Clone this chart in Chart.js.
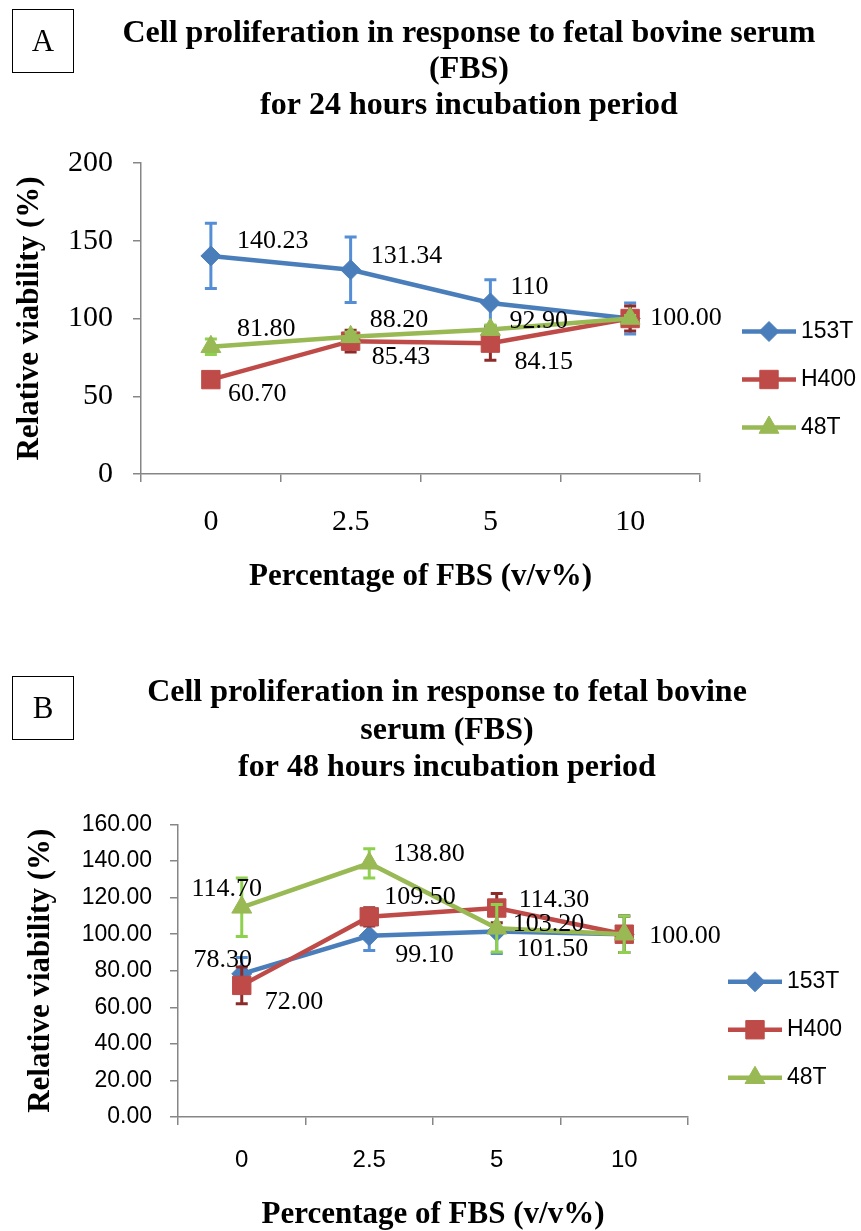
<!DOCTYPE html>
<html>
<head>
<meta charset="utf-8">
<script src="https://cdn.jsdelivr.net/npm/chart.js@4.4.1/dist/chart.umd.min.js"></script>
<style>
html, body { margin: 0; padding: 0; background: #fff; }
#wrap { position: relative; width: 861px; height: 1231px; overflow: hidden; background: #fff; }
canvas { position: absolute; left: 0; }
#chartA { top: 0; }
#chartB { top: 640px; }
.tag { position: absolute; left: 12px; width: 62px; height: 64px; border: 1.5px solid #000; box-sizing: border-box;
  font-family: "Liberation Serif", serif; font-size: 31px; line-height: 61px; text-align: center; color: #000; }
</style>
</head>
<body>
<div id="wrap">
  <canvas id="chartA" width="938" height="620"></canvas>
  <canvas id="chartB" width="894" height="591"></canvas>
  <div class="tag" style="top:9px">A</div>
  <div class="tag" style="top:676px">B</div>
</div>
<script>
var CATEGORIES = ['0', '2.5', '5', '10'];

// 24 hours
var A_153T = [140.23, 131.34, 110, 100];
var A_H400 = [60.70, 85.43, 84.15, 100];
var A_48T = [81.80, 88.20, 92.90, 100];
var A_153T_ERR = [21, 21, 15, 10];
var A_H400_ERR = [3, 7, 11, 8];
var A_48T_ERR = [5, 3, 3, 2];
var A_153T_TXT = ['140.23', '131.34', '110', '100.00'];
var A_H400_TXT = ['60.70', '85.43', '84.15', ''];
var A_48T_TXT = ['81.80', '88.20', '92.90', ''];

// 48 hours
var B_153T = [78.30, 99.10, 101.50, 100];
var B_H400 = [72.00, 109.50, 114.30, 100];
var B_48T = [114.70, 138.80, 103.20, 100];
var B_153T_ERR = [9, 8, 12, 10];
var B_H400_ERR = [10, 5, 8, 10];
var B_48T_ERR = [16, 8, 13, 10];
var B_153T_TXT = ['78.30', '99.10', '101.50', '100.00'];
var B_H400_TXT = ['72.00', '109.50', '114.30', ''];
var B_48T_TXT = ['114.70', '138.80', '103.20', ''];

// label placement relative to the point: [dx, dy, align]
var A_153T_POS = [[26, -15], [20, -14], [20, -16], [20, 0]];
var A_H400_POS = [[17, 15], [21, 16], [24, 19], null];
var A_48T_POS = [[26, -18], [19, -17], [19, -8], null];
var B_153T_POS = [[-19, -14, 'center'], [26, 19], [20, 18], [25, 2]];
var B_H400_POS = [[23, 17], [15, -20], [22, -8], null];
var B_48T_POS = [[-15, -18, 'center'], [24, -9], [16, -4], null];

var SERIF = "'Liberation Serif', 'Times New Roman', serif";
var SANS = "'Liberation Sans', Arial, sans-serif";
var AXIS_GREY = '#868686';

var errorBars = {
  id: 'errorBars',
  beforeDatasetDraw: function (chart, args) {
    var ds = chart.data.datasets[args.index];
    if (!ds.errors) return;
    var y = chart.scales.y, ctx = chart.ctx;
    ctx.save();
    ctx.strokeStyle = ds.errorColor;
    ctx.lineWidth = 3;
    args.meta.data.forEach(function (pt, i) {
      var v = ds.data[i], e = ds.errors[i];
      var top = y.getPixelForValue(v + e), bot = y.getPixelForValue(v - e);
      ctx.beginPath();
      ctx.moveTo(pt.x, top); ctx.lineTo(pt.x, bot);
      ctx.moveTo(pt.x - 6, top); ctx.lineTo(pt.x + 6, top);
      ctx.moveTo(pt.x - 6, bot); ctx.lineTo(pt.x + 6, bot);
      ctx.stroke();
    });
    ctx.restore();
  }
};

var pointLabels = {
  id: 'pointLabels',
  afterDatasetsDraw: function (chart, args, opts) {
    var ctx = chart.ctx;
    ctx.save();
    ctx.font = opts.font;
    ctx.fillStyle = '#000';
    ctx.textBaseline = 'middle';
    chart.data.datasets.forEach(function (ds, di) {
      var meta = chart.getDatasetMeta(di);
      ds.labels.forEach(function (txt, i) {
        var off = ds.labelPos[i];
        if (!txt || !off) return;
        var pt = meta.data[i];
        ctx.textAlign = off[2] || 'left';
        ctx.fillText(txt, pt.x + off[0], pt.y + off[1]);
      });
    });
    ctx.restore();
  }
};

var sideLegend = {
  id: 'sideLegend',
  afterDraw: function (chart, args, opts) {
    var ctx = chart.ctx, ca = chart.chartArea;
    var x0 = ca.right + opts.gap;
    var midY = (ca.top + ca.bottom) / 2 + opts.shift;
    var n = chart.data.datasets.length;
    ctx.save();
    chart.data.datasets.forEach(function (ds, i) {
      var yy = midY + (i - (n - 1) / 2) * opts.spacing;
      ctx.strokeStyle = ds.borderColor;
      ctx.lineWidth = ds.borderWidth;
      ctx.beginPath(); ctx.moveTo(x0, yy); ctx.lineTo(x0 + 54, yy); ctx.stroke();
      ctx.fillStyle = ds.pointBackgroundColor;
      ctx.strokeStyle = ds.pointBorderColor;
      ctx.lineWidth = 1;
      Chart.helpers.drawPoint(ctx, {pointStyle: ds.pointStyle, radius: ds.pointRadius, borderWidth: 1, rotation: 0}, x0 + 27, yy);
      ctx.fillStyle = '#000';
      ctx.font = opts.font;
      ctx.textAlign = 'left';
      ctx.textBaseline = 'middle';
      ctx.fillText(ds.label, x0 + 59, yy);
    });
    ctx.restore();
  }
};

function series(label, color, errColor, style, radius, order, values, errs, txt, pos) {
  return {
    label: label,
    data: values,
    errors: errs,
    errorColor: errColor,
    labels: txt,
    labelPos: pos,
    borderColor: color,
    backgroundColor: color,
    pointBackgroundColor: color,
    pointBorderColor: color,
    borderWidth: 4.5,
    pointStyle: style,
    pointRadius: radius,
    pointBorderWidth: 1,
    tension: 0,
    order: order
  };
}

function makeChart(id, o) {
  return new Chart(document.getElementById(id), {
    type: 'line',
    data: {
      labels: CATEGORIES,
      datasets: [
        series('153T', '#4A7EBB', '#558ED5', 'rectRot', 10, 3, o.s1, o.e1, o.t1, o.p1),
        series('H400', '#BE4B48', '#8B2C2A', 'rect', 13, 2, o.s2, o.e2, o.t2, o.p2),
        series('48T', '#98B954', '#8ED14F', 'triangle', 11.5, 1, o.s3, o.e3, o.t3, o.p3)
      ]
    },
    options: {
      responsive: false,
      animation: false,
      devicePixelRatio: 1,
      layout: { padding: 0 },
      plugins: {
        legend: { display: false },
        tooltip: { enabled: false },
        title: {
          display: true,
          text: o.title,
          color: '#000',
          font: { family: SERIF, size: 32, weight: 'bold', lineHeight: o.titleLH },
          padding: o.titlePad
        },
        pointLabels: { font: '26px ' + SERIF },
        sideLegend: { font: '23px ' + SANS, gap: o.legendGap, shift: o.legendShift, spacing: 48 }
      },
      scales: {
        y: {
          min: 0, max: o.yMax,
          ticks: {
            stepSize: o.yStep, color: '#000', padding: o.yTickPad,
            font: o.yTickFont,
            callback: o.yFormat
          },
          grid: { drawOnChartArea: false, drawTicks: true, tickLength: 8, color: AXIS_GREY, lineWidth: 1.5 },
          border: { display: true, color: AXIS_GREY, width: 1.5 },
          title: {
            display: true, text: 'Relative viability (%)', color: '#000',
            font: { family: SERIF, size: 31, weight: 'bold', lineHeight: 1.2 },
            padding: { top: o.yTitlePad, bottom: 0 }
          },
          afterFit: function (s) { s.width = o.yWidth; }
        },
        pad: {
          position: 'right', display: true,
          grid: { display: false }, border: { display: false }, ticks: { display: false },
          afterFit: function (s) { s.width = o.rightWidth; }
        },
        x: {
          offset: true,
          ticks: { color: '#000', padding: o.xTickPad, font: o.xTickFont },
          grid: { offset: true, drawOnChartArea: false, drawTicks: true, tickLength: 8, color: AXIS_GREY, lineWidth: 1.5 },
          border: { display: true, color: AXIS_GREY, width: 1.5 },
          title: {
            display: true, text: 'Percentage of FBS (v/v%)', color: '#000',
            font: { family: SERIF, size: 31, weight: 'bold', lineHeight: o.xTitleLH },
            padding: { top: 0, bottom: o.xTitlePad }
          },
          afterFit: function (s) { s.height = o.xHeight; }
        }
      }
    },
    plugins: [errorBars, pointLabels, sideLegend]
  });
}

makeChart('chartA', {
  s1: A_153T, s2: A_H400, s3: A_48T,
  e1: A_153T_ERR, e2: A_H400_ERR, e3: A_48T_ERR,
  t1: A_153T_TXT, t2: A_H400_TXT, t3: A_48T_TXT,
  p1: A_153T_POS, p2: A_H400_POS, p3: A_48T_POS,
  title: ['Cell proliferation in response to fetal bovine serum', '(FBS)', 'for 24 hours incubation period'],
  titleLH: 36 / 32, titlePad: { top: 16, bottom: 39 },
  yMax: 200, yStep: 50, yTickPad: 20,
  yTickFont: { family: SERIF, size: 30 },
  yFormat: function (v) { return v; },
  yTitlePad: 11, yWidth: 141, rightWidth: 238,
  xTickPad: 22, xTickFont: { family: SERIF, size: 30 },
  xTitleLH: 1.2, xTitlePad: 24, xHeight: 146,
  legendGap: 42, legendShift: 61
});

makeChart('chartB', {
  s1: B_153T, s2: B_H400, s3: B_48T,
  e1: B_153T_ERR, e2: B_H400_ERR, e3: B_48T_ERR,
  t1: B_153T_TXT, t2: B_H400_TXT, t3: B_48T_TXT,
  p1: B_153T_POS, p2: B_H400_POS, p3: B_48T_POS,
  title: ['Cell proliferation in response to fetal bovine', 'serum (FBS)', 'for 48 hours incubation period'],
  titleLH: 37.5 / 32, titlePad: { top: 34, bottom: 38 },
  yMax: 160, yStep: 20, yTickPad: 18,
  yTickFont: { family: SANS, size: 23 },
  yFormat: function (v) { return Number(v).toFixed(2); },
  yTitlePad: 22, yWidth: 178, rightWidth: 206,
  xTickPad: 21, xTickFont: { family: SANS, size: 24 },
  xTitleLH: 1.05, xTitlePad: 0, xHeight: 114,
  legendGap: 40, legendShift: 59
});
</script>
</body>
</html>
